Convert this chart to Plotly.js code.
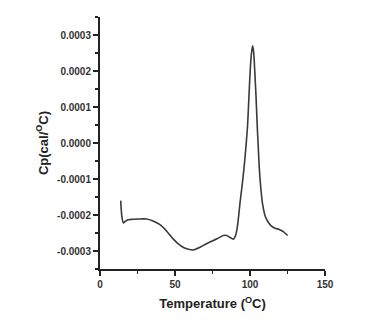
<!DOCTYPE html>
<html><head><meta charset="utf-8">
<script src="https://cdn.plot.ly/plotly-3.0.1.min.js"></script>
<style>html,body{margin:0;padding:0;background:#fff}#chart{width:383px;height:329px}</style>
</head><body><div id="chart"></div>
<script>
const temperature = [13.8, 14.6, 15.6, 17, 18.9, 22, 26, 31, 35, 40, 44.5, 48.9, 53, 56, 58.9, 62.2, 66, 70, 73.3, 78, 82.2, 84.5, 86.5, 88.9, 90.3, 91.5, 92.5, 93.5, 94.7, 96, 97.3, 98.4, 99.3, 100.2, 101, 101.8, 102.5, 103.1, 104, 104.9, 105.5, 106.2, 107.2, 108.4, 110.2, 112.2, 114.3, 116.7, 119.5, 122.2, 125.1];
const cp = [-0.00016, -0.000205, -0.000222, -0.000217, -0.000213, -0.000212, -0.000211, -0.000211, -0.000216, -0.000227, -0.000245, -0.000267, -0.000283, -0.000291, -0.000295, -0.000297, -0.000291, -0.000282, -0.000275, -0.000266, -0.000257, -0.000257, -0.000262, -0.000267, -0.000258, -0.000235, -0.0002, -0.00016, -0.00012, -0.00007, -0.00001, 0.00005, 0.00013, 0.000206, 0.00025, 0.00027, 0.00025, 0.000206, 0.000131, 0.00004, -0.00001, -0.00007, -0.000125, -0.00017, -0.000204, -0.00022, -0.000231, -0.000237, -0.00024, -0.000246, -0.000257];
const xTicks = [0, 50, 100, 150];
const yTicks = [-0.0003, -0.0002, -0.0001, 0, 0.0001, 0.0002, 0.0003];

const tickFont = {family: 'Arial, "Liberation Sans", sans-serif', size: 10, color: '#333'};
const titleFont = {family: 'Arial, "Liberation Sans", sans-serif', size: 13, color: '#222'};

Plotly.newPlot('chart', [{
  x: temperature, y: cp, type: 'scatter', mode: 'lines',
  line: {color: '#3a3a3a', width: 1.6, shape: 'spline', smoothing: 0.7},
  hoverinfo: 'skip'
}], {
  width: 383, height: 329,
  margin: {l: 100, r: 58, t: 17, b: 60},
  paper_bgcolor: '#fff', plot_bgcolor: '#fff',
  showlegend: false,
  xaxis: {
    range: [0, 150], tickvals: xTicks, ticktext: xTicks.map(v => '<b>' + v + '</b>'),
    showgrid: false, zeroline: false, showline: true, linecolor: '#222', linewidth: 2,
    ticks: 'outside', ticklen: 5, tickwidth: 1.5, tickcolor: '#222',
    minor: {ticks: 'outside', ticklen: 3, tickwidth: 1.2, tickcolor: '#222', dtick: 25, showgrid: false},
    tickfont: tickFont,
    title: {text: '<b>Temperature (<sup>O</sup>C)</b>', font: titleFont, standoff: 10}
  },
  yaxis: {
    range: [-0.00035, 0.00035], tickvals: yTicks,
    ticktext: yTicks.map(v => '<b>' + (v < 0 ? '-' : '') + Math.abs(v).toFixed(4) + '</b>'),
    showgrid: false, zeroline: false, showline: true, linecolor: '#222', linewidth: 2,
    ticks: 'outside', ticklen: 5, tickwidth: 1.5, tickcolor: '#222',
    minor: {ticks: 'outside', ticklen: 3, tickwidth: 1.2, tickcolor: '#222', dtick: 0.00005, showgrid: false},
    tickfont: tickFont,
    title: {text: '<b>Cp(cal/<sup>O</sup>C)</b>', font: titleFont, standoff: 6}
  }
}, {staticPlot: true, displayModeBar: false});
</script></body></html>
